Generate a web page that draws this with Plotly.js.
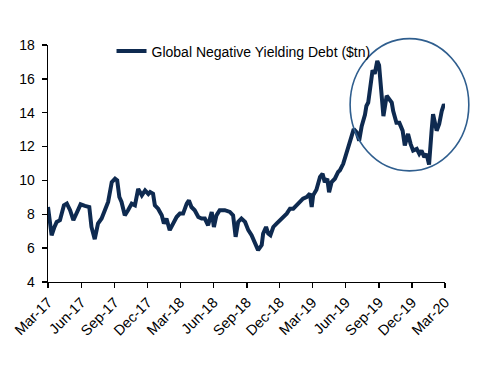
<!DOCTYPE html>
<html>
<head>
<meta charset="utf-8">
<script src="https://cdn.plot.ly/plotly-3.0.1.min.js"></script>
<style>
html,body{margin:0;padding:0;background:#fff;}
#chart{width:484px;height:377px;}
</style>
</head>
<body>
<div id="chart"></div>
<script>
var seriesName = "Global Negative Yielding Debt ($tn)";

var dates = [
"2017-03-01","2017-03-04","2017-03-11","2017-03-18","2017-03-25","2017-04-03","2017-04-14","2017-04-22",
"2017-05-01","2017-05-10","2017-05-19","2017-05-30","2017-06-11","2017-06-23","2017-06-29","2017-07-08",
"2017-07-17","2017-07-27","2017-08-05","2017-08-14","2017-08-24","2017-09-02","2017-09-08","2017-09-14",
"2017-09-20","2017-09-29","2017-10-08","2017-10-18","2017-10-27","2017-11-05","2017-11-15","2017-11-24",
"2017-12-03","2017-12-08","2017-12-16","2017-12-21","2017-12-30","2018-01-09","2018-01-15","2018-01-22",
"2018-01-31","2018-02-10","2018-02-19","2018-02-28","2018-03-09","2018-03-19","2018-03-25","2018-04-01",
"2018-04-10","2018-04-20","2018-04-29","2018-05-08","2018-05-17","2018-05-27","2018-06-02","2018-06-09",
"2018-06-18","2018-07-02","2018-07-16","2018-07-25","2018-08-01","2018-08-08","2018-08-17","2018-08-27",
"2018-09-05","2018-09-14","2018-09-23","2018-10-02","2018-10-12","2018-10-16","2018-10-24","2018-10-30",
"2018-11-05","2018-11-13","2018-11-22","2018-12-01","2018-12-10","2018-12-20","2018-12-29","2019-01-07",
"2019-01-16","2019-01-25","2019-02-03","2019-02-13","2019-02-22","2019-02-27","2019-03-03","2019-03-12",
"2019-03-22","2019-03-29","2019-04-04","2019-04-11","2019-04-16","2019-04-23","2019-05-02","2019-05-11",
"2019-05-16","2019-05-25","2019-06-03","2019-06-10","2019-06-17","2019-06-23","2019-07-01","2019-07-08",
"2019-07-15","2019-07-24","2019-07-28","2019-08-02","2019-08-07","2019-08-14","2019-08-20","2019-08-27",
"2019-09-01","2019-09-05","2019-09-09","2019-09-13","2019-09-22","2019-09-29","2019-10-06","2019-10-10",
"2019-10-19","2019-10-27","2019-11-05","2019-11-11","2019-11-20","2019-11-27","2019-12-04","2019-12-14",
"2019-12-21","2019-12-27","2020-01-04","2020-01-10","2020-01-17","2020-01-24","2020-01-28","2020-02-07",
"2020-02-14","2020-02-21","2020-02-27","2020-03-02"
];

var debtTn = [
8.43,7.76,6.76,7.2,7.55,7.65,8.53,8.63,
8.24,7.65,8.04,8.59,8.5,8.43,7.25,6.53,
7.45,7.75,8.24,8.73,9.9,10.1,10.0,9.02,
8.73,7.94,8.24,8.63,8.53,9.5,9.12,9.41,
9.2,9.32,9.22,8.53,8.33,7.94,7.45,7.75,
7.06,7.45,7.84,8.04,8.04,8.63,8.82,8.43,
8.24,7.84,7.75,7.75,7.35,8.14,7.25,7.94,
8.24,8.24,8.14,7.94,6.67,7.55,7.75,7.55,
7.06,6.76,6.27,5.88,6.18,6.86,7.25,6.86,
6.76,7.25,7.45,7.65,7.84,8.04,8.33,8.33,
8.53,8.73,8.92,9.02,9.22,8.43,9.12,9.45,
10.2,10.39,9.9,10.1,9.3,9.9,10.1,10.5,
10.6,10.98,11.57,11.96,12.6,13.04,12.84,12.35,
13.2,13.88,14.4,14.6,15.6,16.5,16.3,17.06,
16.8,15.8,14.8,13.8,15.0,14.8,14.6,14.1,
13.4,13.4,12.94,12.06,12.75,12.16,11.76,11.86,
11.57,11.76,11.37,11.57,10.94,12.94,13.92,12.94,
13.33,14.1,14.5,14.3
];

var tickDates = ["2017-03-01","2017-06-01","2017-09-01","2017-12-01","2018-03-01","2018-06-01",
"2018-09-01","2018-12-01","2019-03-01","2019-06-01","2019-09-01","2019-12-01","2020-03-01"];
var tickLabels = ["Mar-17","Jun-17","Sep-17","Dec-17","Mar-18","Jun-18",
"Sep-18","Dec-18","Mar-19","Jun-19","Sep-19","Dec-19","Mar-20"];
var yTicks = [4,6,8,10,12,14,16,18];

var font = "Liberation Sans, Arial, sans-serif";

var trace = {
  x: dates, y: debtTn, type: "scatter", mode: "lines", name: seriesName,
  line: {color: "#0E2A50", width: 4},
  cliponaxis: false
};

var layout = {
  width: 484, height: 377,
  margin: {l: 48, r: 39, t: 45, b: 95},
  paper_bgcolor: "#fff", plot_bgcolor: "#fff",
  font: {family: font, size: 14, color: "#000"},
  showlegend: true,
  legend: {x: 0.16, y: 1.04, xanchor: "left", yanchor: "top", bgcolor: "rgba(0,0,0,0)",
           font: {family: font, size: 14, color: "#000"}},
  xaxis: {
    type: "date", range: ["2017-03-01","2020-03-01"],
    tickmode: "array", tickvals: tickDates, ticktext: tickLabels,
    tickangle: -45, ticks: "outside", ticklen: 5, tickwidth: 1.3, tickcolor: "#000",
    showline: true, linecolor: "#000", linewidth: 1.3, showgrid: false, zeroline: false,
    tickfont: {family: font, size: 14.5, color: "#000"}
  },
  yaxis: {
    range: [4, 18], tickmode: "array", tickvals: yTicks,
    ticks: "outside", ticklen: 5, tickwidth: 1.3, tickcolor: "#000",
    showline: true, linecolor: "#000", linewidth: 1.3, showgrid: false, zeroline: false,
    ticklabelstandoff: 4,
    tickfont: {family: font, size: 14, color: "#000"}
  },
  shapes: [{
    type: "circle", xref: "paper", yref: "paper",
    x0: 0.761, x1: 1.060, y0: 0.469, y1: 1.027,
    line: {color: "#2F5E8E", width: 1.6}
  }]
};

Plotly.newPlot("chart", [trace], layout, {displayModeBar: false, staticPlot: true});
</script>
</body>
</html>
